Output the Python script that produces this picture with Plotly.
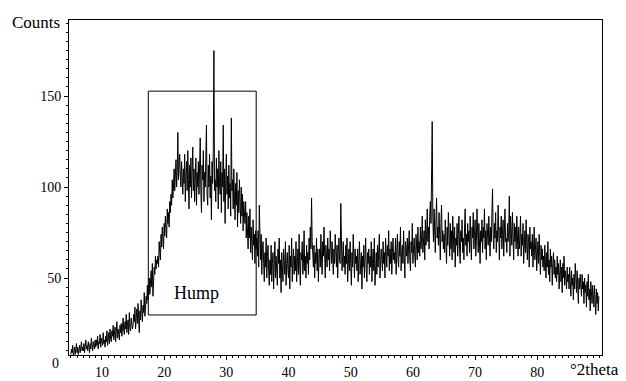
import plotly.graph_objects as go

# Scan grid: start angle and step (degrees 2theta)
scan_start = 5.0
scan_step = 0.1

# Counts, one row per 2 degrees (20 points of 0.1 deg)
counts = [
    8, 11, 9, 13, 7, 10, 12, 8, 11, 14, 9, 12, 8, 10, 13, 9, 11, 15, 10, 12,            # 5
    10, 14, 9, 12, 16, 11, 13, 10, 15, 12, 9, 14, 11, 17, 12, 10, 15, 13, 11, 16,       # 7
    12, 16, 13, 18, 11, 15, 14, 19, 12, 17, 15, 13, 20, 14, 16, 12, 18, 15, 21, 13,     # 9
    16, 20, 14, 22, 17, 15, 21, 18, 24, 16, 19, 23, 15, 20, 26, 17, 22, 19, 16, 24,     # 11
    20, 25, 18, 23, 28, 21, 19, 26, 22, 30, 20, 24, 27, 19, 31, 23, 21, 28, 25, 22,     # 13
    24, 30, 26, 34, 22, 29, 33, 25, 36, 28, 20, 32, 27, 38, 30, 26, 35, 31, 42, 29,     # 15
    33, 40, 36, 46, 38, 44, 50, 41, 48, 54, 45, 58, 40, 47, 56, 52, 62, 55, 60, 58,     # 17
    62, 56, 70, 64, 60, 74, 67, 78, 70, 66, 80, 73, 84, 76, 72, 88, 80, 86, 78, 92,     # 19
    86, 96, 90, 104, 94, 100, 110, 98, 106, 115, 100, 108, 130, 104, 112, 118, 106, 100, 114, 108,  # 21
    96, 110, 102, 118, 92, 106, 114, 98, 120, 104, 88, 112, 100, 116, 94, 108, 122, 98, 110, 92,    # 23
    104, 116, 90, 108, 100, 114, 96, 110, 127, 98, 86, 112, 104, 120, 92, 108, 100, 116, 134, 96,   # 25
    90, 112, 100, 118, 94, 106, 82, 114, 102, 120, 175, 98, 104, 92, 116, 100, 110, 88, 120, 102,   # 27
    96, 114, 86, 108, 100, 134, 92, 110, 80, 104, 118, 96, 106, 88, 112, 94, 102, 84, 138, 98,     # 29
    104, 88, 110, 94, 82, 102, 90, 108, 78, 98, 86, 104, 92, 80, 100, 84, 96, 76, 92, 86,          # 31
    80, 92, 72, 86, 76, 66, 84, 72, 88, 64, 78, 70, 60, 82, 68, 74, 58, 76, 66, 72,     # 33
    62, 76, 56, 90, 68, 60, 74, 52, 66, 70, 58, 48, 64, 56, 72, 50, 62, 68, 54, 46,     # 35
    60, 52, 68, 48, 58, 64, 44, 56, 70, 50, 62, 54, 46, 66, 58, 72, 50, 60, 42, 64,     # 37
    56, 48, 66, 60, 52, 70, 46, 58, 64, 54, 50, 68, 44, 62, 56, 72, 48, 60, 66, 52,     # 39
    62, 54, 70, 48, 58, 66, 52, 74, 56, 46, 64, 60, 70, 52, 58, 76, 54, 62, 50, 68,     # 41
    58, 64, 52, 72, 60, 78, 66, 94, 70, 62, 56, 68, 50, 64, 58, 72, 54, 66, 48, 62,     # 43
    66, 56, 74, 60, 52, 70, 62, 78, 58, 50, 68, 64, 56, 72, 60, 66, 54, 76, 62, 58,     # 45
    70, 60, 52, 66, 58, 74, 62, 56, 68, 50, 64, 72, 60, 58, 91, 66, 54, 62, 70, 56,     # 47
    62, 52, 68, 58, 72, 48, 60, 66, 54, 70, 58, 46, 64, 56, 74, 60, 50, 66, 58, 62,     # 49
    54, 66, 48, 60, 70, 52, 58, 64, 44, 62, 56, 68, 50, 60, 72, 54, 48, 64, 58, 66,     # 51
    52, 62, 56, 70, 48, 58, 66, 54, 72, 46, 60, 64, 52, 68, 56, 62, 74, 50, 58, 66,     # 53
    60, 54, 70, 58, 64, 50, 72, 60, 56, 68, 62, 76, 54, 66, 58, 70, 52, 64, 72, 60,     # 55
    64, 58, 72, 52, 66, 74, 60, 56, 70, 62, 78, 54, 64, 68, 58, 76, 62, 50, 70, 66,     # 57
    62, 72, 58, 68, 76, 60, 54, 70, 64, 80, 58, 66, 72, 62, 56, 74, 68, 60, 78, 64,     # 59
    70, 62, 78, 66, 72, 84, 64, 70, 76, 60, 82, 68, 74, 88, 70, 78, 66, 84, 92, 80,     # 61
    98, 136, 84, 70, 88, 76, 64, 82, 94, 72, 78, 68, 86, 74, 60, 80, 90, 70, 76, 66,    # 63
    74, 64, 82, 70, 58, 78, 68, 86, 72, 62, 80, 66, 76, 60, 84, 70, 64, 78, 56, 72,     # 65
    68, 80, 62, 74, 84, 66, 58, 76, 70, 82, 64, 72, 60, 78, 88, 68, 74, 62, 80, 70,     # 67
    76, 64, 84, 70, 60, 78, 72, 86, 66, 74, 82, 62, 70, 88, 76, 64, 80, 72, 58, 76,     # 69
    70, 82, 64, 78, 72, 88, 66, 76, 60, 80, 74, 68, 84, 72, 62, 78, 70, 86, 99, 74,     # 71
    66, 80, 72, 86, 64, 76, 70, 90, 68, 60, 78, 72, 84, 66, 74, 82, 62, 76, 88, 70,     # 73
    72, 64, 80, 70, 76, 95, 62, 84, 72, 68, 86, 74, 60, 80, 70, 78, 66, 84, 72, 62,     # 75
    78, 66, 72, 84, 62, 74, 68, 80, 58, 72, 76, 64, 82, 68, 60, 74, 70, 56, 78, 66,     # 77
    70, 62, 74, 56, 68, 78, 60, 66, 72, 54, 64, 70, 58, 74, 62, 52, 68, 60, 66, 56,     # 79
    62, 54, 68, 58, 50, 64, 56, 70, 52, 60, 48, 66, 56, 62, 46, 58, 64, 52, 60, 50,     # 81
    56, 48, 62, 52, 58, 44, 54, 60, 48, 56, 42, 58, 50, 62, 46, 54, 50, 44, 56, 48,     # 83
    52, 44, 56, 48, 40, 54, 46, 50, 38, 52, 44, 58, 46, 42, 54, 48, 36, 50, 44, 52,     # 85
    46, 40, 52, 44, 48, 36, 50, 42, 46, 34, 48, 40, 52, 38, 44, 32, 48, 42, 36, 46,     # 87
    40, 34, 46, 38, 30, 44, 36, 42, 32, 40,                                             # 89
]
two_theta = [round(scan_start + scan_step * i, 2) for i in range(len(counts))]

y_tick_vals = [50, 100, 150]
y_tick_text = ["50", "100", "150"]
x_tick_vals = [10, 20, 30, 40, 50, 60, 70, 80]

hump_box = dict(x0=17.45, x1=34.8, y0=29.7, y1=152.7)
hump_label = dict(x=25.2, y=42, text="Hump")

FONT = "Liberation Serif"

fig = go.Figure()
fig.add_trace(go.Scatter(
    x=two_theta, y=counts, mode="lines",
    line=dict(color="black", width=1),
    hoverinfo="skip", showlegend=False,
))

fig.add_shape(type="rect", xref="x", yref="y", **hump_box,
              line=dict(color="black", width=1), fillcolor="rgba(0,0,0,0)")
fig.add_annotation(x=hump_label["x"], y=hump_label["y"], xref="x", yref="y",
                   text=hump_label["text"], showarrow=False,
                   font=dict(family=FONT, size=18, color="black"))

fig.add_annotation(xref="paper", yref="paper", x=-0.013, y=0.994,
                   xanchor="right", yanchor="middle", text="Counts", showarrow=False,
                   font=dict(family=FONT, size=17, color="black"))
fig.add_annotation(xref="paper", yref="paper", x=1.036, y=-0.044,
                   xanchor="right", yanchor="middle", text="°2theta", showarrow=False,
                   font=dict(family=FONT, size=17, color="black"))
fig.add_annotation(xref="paper", yref="paper", x=-0.015, y=-0.024,
                   xanchor="right", yanchor="middle", text="0", showarrow=False,
                   font=dict(family=FONT, size=14, color="black"))

fig.update_layout(
    width=626, height=381,
    margin=dict(l=69, r=24, t=20, b=26, autoexpand=False),
    paper_bgcolor="white", plot_bgcolor="white",
    font=dict(family=FONT, size=14, color="black"),
    showlegend=False,
    xaxis=dict(
        range=[4.7, 90.4], tickvals=x_tick_vals, automargin=False,
        showgrid=False, zeroline=False,
        showline=True, linecolor="black", linewidth=1, mirror=True,
        ticks="outside", ticklen=4, tickcolor="black", tickwidth=1,
        minor=dict(dtick=1, tick0=0, ticks="outside", ticklen=2, tickcolor="black"),
        tickfont=dict(family=FONT, size=14, color="black"),
    ),
    yaxis=dict(
        range=[7.7, 191.8], tickvals=y_tick_vals, ticktext=y_tick_text, automargin=False,
        showgrid=False, zeroline=False,
        showline=True, linecolor="black", linewidth=1, mirror=True,
        ticks="outside", ticklen=4, tickcolor="black", tickwidth=1,
        minor=dict(dtick=5, tick0=0, ticks="outside", ticklen=2, tickcolor="black"),
        tickfont=dict(family=FONT, size=14, color="black"),
    ),
)

fig.write_html("out.html")
